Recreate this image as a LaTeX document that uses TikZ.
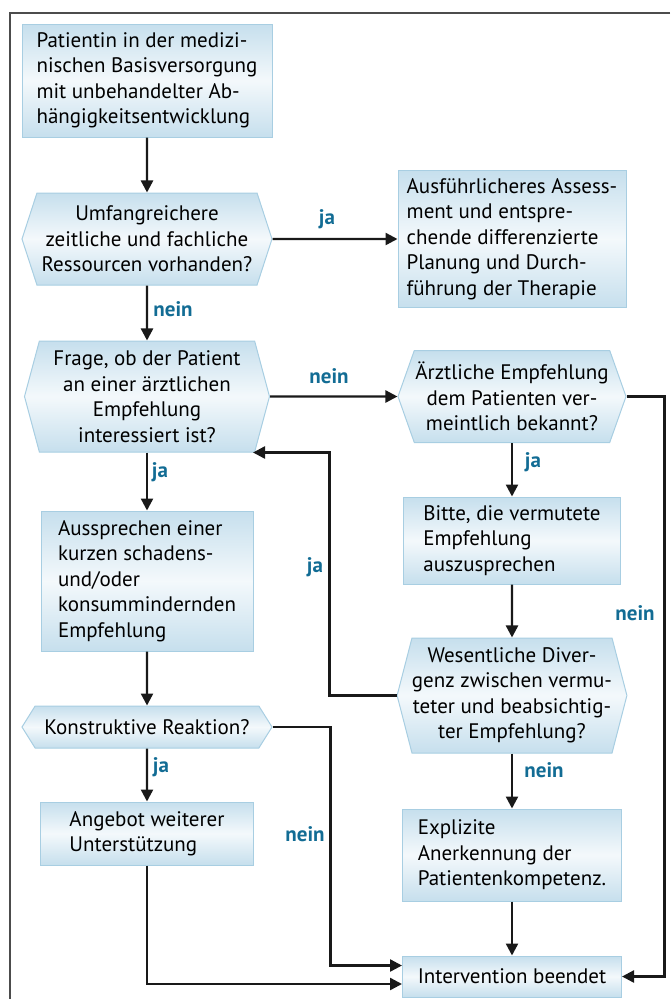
\documentclass[tikz,border=0pt]{standalone}
\usepackage{fontspec}
\setmainfont{PT Sans}
\usetikzlibrary{arrows.meta, positioning, calc, shapes.symbols}
\definecolor{boxblue}{RGB}{198,223,237}
\definecolor{boxline}{RGB}{168,206,226}
\definecolor{labelblue}{RGB}{18,108,148}

\tikzset{
  box/.style={rectangle, draw=boxline, line width=1pt, top color=boxblue, bottom color=boxblue, middle color=boxblue!20,
    font=\fontsize{21}{25.5}\selectfont, align=left, inner sep=0pt},
  query/.style={box, signal, signal to=west and east, align=center},
  flow/.style={-{Triangle[length=12pt,width=12pt]}, line width=2.4pt, black!90},
  answer/.style={font=\bfseries\fontsize{21}{22}\selectfont, text=labelblue, inner sep=0pt},
}

\begin{document}
\begin{tikzpicture}[x=1pt, y=-1pt]
        \useasboundingbox (0,0) rectangle (670,999);
        % Frame
        \draw[line width=1.2pt, black!70] (670,13) -- (10,13) -- (10,999);

        % Left column
        \node[box, minimum width=250, minimum height=113] (start) at (147,80.5)
          {Patientin in der medizi-\\nischen Basisversorgung\\mit unbehandelter Ab-\\hängigkeitsentwicklung};
        \node[query, minimum width=250, minimum height=92, signal pointer angle=144] (resources) at (147,239)
          {Umfangreichere\\zeitliche und fachliche\\Ressourcen vorhanden?};
        \node[query, minimum width=245, minimum height=111, signal pointer angle=150] (interest) at (147,396.5)
          {Frage, ob der Patient\\an einer ärztlichen\\Empfehlung\\interessiert ist?};
        \node[box, minimum width=212, minimum height=140] (advice) at (147,581)
          {Aussprechen einer\\kurzen schadens-\\und/oder\\konsummindernden\\Empfehlung};
        \node[query, minimum width=250, minimum height=42, signal pointer angle=116] (react) at (147,727)
          {Konstruktive Reaktion?};
        \node[box, minimum width=213, minimum height=63] (offer) at (147,833.5)
          {Angebot weiterer\\Unterstützung};

        % Right column
        \node[box, minimum width=228, minimum height=137] (assess) at (512,239)
          {Ausführlicheres Assess-\\ment und entspre-\\chende differenzierte\\Planung und Durch-\\führung der Therapie};
        \node[query, minimum width=228, minimum height=92, signal pointer angle=141] (known) at (512,396.5)
          {Ärztliche Empfehlung\\dem Patienten ver-\\meintlich bekannt?};
        \node[box, minimum width=217, minimum height=87] (ask) at (512,540.5)
          {Bitte, die vermutete\\Empfehlung\\auszusprechen};
        \node[query, minimum width=229, minimum height=115, signal pointer angle=151] (diverge) at (512,695.5)
          {Wesentliche Diver-\\genz zwischen vermu-\\teter und beabsichtig-\\ter Empfehlung?};
        \node[box, minimum width=219, minimum height=92] (acknowledge) at (512,855)
          {Explizite\\Anerkennung der\\Patientenkompetenz.};
        \node[box, minimum width=219, minimum height=41] (stop) at (512,976.5)
          {Intervention beendet};

        % Connectors
        \draw[flow] (start) -- (resources);
        \draw[flow] (resources) -- (assess);
        \draw[flow] (resources) -- (interest);
        \draw[flow] (interest) -- (known);
        \draw[flow] (interest) -- (advice);
        \draw[flow] (advice) -- (react);
        \draw[flow] (react) -- (offer);
        \draw[flow] (known) -- (ask);
        \draw[flow] (ask) -- (diverge);
        \draw[flow] (diverge) -- (acknowledge);
        \draw[flow] (acknowledge) -- (stop);
        \draw[flow] (diverge.west) -- ++(-67,0) |- ($(interest.south)+(106,0)$);
        \draw[flow] (known.east) -- ++(38,0) |- (stop.east);
        \draw[flow] (react.east) -- ++(58,0) |- ($(stop.west)+(0,-11)$);
        \draw[flow] (offer.south) |- ($(stop.west)+(0,7.5)$);

        % Labels
        \node[answer] (l1) at (327,219) {ja};
        \node[answer] (l2) at (173,309) {nein};
        \node[answer] (l3) at (329,376) {nein};
        \node[answer] (l4) at (160,472) {ja};
        \node[answer] (l5) at (315,567) {ja};
        \node[answer] (l6) at (533,462) {ja};
        \node[answer] (l7) at (635,613) {nein};
        \node[answer] (l8) at (544,770) {nein};
        \node[answer] (l9) at (161,767) {ja};
        \node[answer] (l10) at (305,834) {nein};
\end{tikzpicture}
\end{document}
